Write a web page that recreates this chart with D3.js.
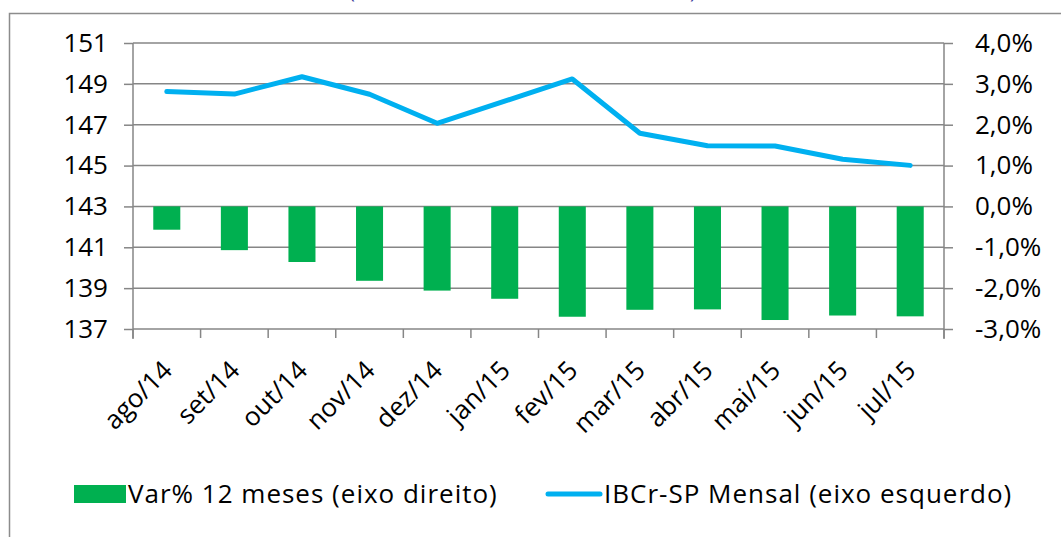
<!DOCTYPE html>
<html>
<head>
<meta charset="utf-8">
<script src="https://cdn.jsdelivr.net/npm/d3@7"></script>
<style>
	body { margin: 0; background: #fff; }
	svg { display: block; font-family: "Open Sans", sans-serif; }
</style>
</head>
<body>
<svg width="1061" height="537"></svg>
<script>
'use strict';

// chart data
var months = ["ago/14", "set/14", "out/14", "nov/14", "dez/14", "jan/15", "fev/15", "mar/15", "abr/15", "mai/15", "jun/15", "jul/15"];
var varPct = [-0.57, -1.07, -1.36, -1.82, -2.06, -2.26, -2.70, -2.53, -2.52, -2.78, -2.67, -2.69];
var ibcr = [148.62, 148.5, 149.35, 148.49, 147.07, 148.15, 149.24, 146.58, 145.97, 145.96, 145.31, 145.01];
var leftTicks = [137, 139, 141, 143, 145, 147, 149, 151];
var rightTicks = [-3, -2, -1, 0, 1, 2, 3, 4];
var legendNames = ["Var% 12 meses (eixo direito)", "IBCr-SP Mensal (eixo esquerdo)"];

const svg = d3.select("svg");
const gridColor = "#868686";
const green = "#00B050";
const blue = "#00B0F0";

// outer frame (right and bottom edges fall outside the picture)
svg.append("rect")
	.attr("x", 9.5).attr("y", 13.5)
	.attr("width", 1060).attr("height", 530)
	.attr("fill", "none")
	.attr("stroke", "#8c8c8c")
	.attr("stroke-width", 1.5);

// bits of the title cut off above the frame
svg.append("text").attr("x", 349).attr("y", -2).attr("fill", "#3a3a9a").attr("font-size", 20).text("(");
svg.append("text").attr("x", 690).attr("y", -2).attr("fill", "#3a3a9a").attr("font-size", 20).text(")");

const plotL = 133, plotR = 944, plotT = 43, plotB = 329;

const x = d3.scaleBand().domain(months).range([plotL, plotR]);
const yL = d3.scaleLinear().domain([137, 151]).range([plotB, plotT]);
const yR = d3.scaleLinear().domain([-3, 4]).range([plotB, plotT]);

// gridlines
svg.append("g").selectAll("line")
	.data(leftTicks)
	.enter().append("line")
	.attr("x1", plotL).attr("x2", plotR)
	.attr("y1", d => yL(d)).attr("y2", d => yL(d))
	.attr("stroke", gridColor).attr("stroke-width", 1.5);

// left axis
const axL = svg.append("g")
	.attr("transform", `translate(${plotL},0)`)
	.call(d3.axisLeft(yL).tickValues(leftTicks).tickSize(9).tickPadding(16).tickFormat(d3.format("d")));

// right axis
const axR = svg.append("g")
	.attr("transform", `translate(${plotR},0)`)
	.call(d3.axisRight(yR).tickValues(rightTicks).tickSize(9).tickPadding(22)
		.tickFormat(d => d3.format(".1f")(d).replace(".", ",").replace("−", "-") + "%"));

// bottom axis, ticks on category boundaries
const axB = svg.append("g")
	.attr("transform", `translate(0,${plotB})`)
	.call(d3.axisBottom(x).tickSize(0));
axB.select(".domain").remove();
axB.selectAll(".tick text")
	.attr("text-anchor", "end")
	.attr("x", 0).attr("y", 0).attr("dy", 0)
	.attr("transform", "translate(7,43) rotate(-45)");
svg.append("g").selectAll("line")
	.data(d3.range(months.length + 1))
	.enter().append("line")
	.attr("x1", i => plotL + i * x.step()).attr("x2", i => plotL + i * x.step())
	.attr("y1", plotB).attr("y2", plotB + 9)
	.attr("stroke", gridColor).attr("stroke-width", 1.5);

[axL, axR].forEach(a => {
	a.select(".domain").remove();
	a.selectAll(".tick line").attr("stroke", gridColor).attr("stroke-width", 1.5);
});
[axL, axR, axB].forEach(a => {
	a.selectAll(".tick text").attr("font-size", 26).attr("fill", "#000")
		.attr("font-family", "'Open Sans', sans-serif");
});

// axis verticals
[plotL, plotR].forEach(px => {
	svg.append("line")
		.attr("x1", px).attr("x2", px)
		.attr("y1", plotT).attr("y2", plotB + 10)
		.attr("stroke", gridColor).attr("stroke-width", 1.5);
});

// bars
const barW = x.step() * 0.4;
svg.append("g").selectAll("rect")
	.data(varPct)
	.enter().append("rect")
	.attr("x", (d, i) => x(months[i]) + x.bandwidth() / 2 - barW / 2)
	.attr("y", d => yR(Math.max(0, d)))
	.attr("width", barW)
	.attr("height", d => Math.abs(yR(d) - yR(0)))
	.attr("fill", green);

// line
const line = d3.line()
	.x((d, i) => x(months[i]) + x.bandwidth() / 2)
	.y(d => yL(d));
svg.append("path")
	.datum(ibcr)
	.attr("d", line)
	.attr("fill", "none")
	.attr("stroke", blue)
	.attr("stroke-width", 5)
	.attr("stroke-linejoin", "round")
	.attr("stroke-linecap", "round");

// legend
const legend = svg.append("g").attr("font-size", 26).attr("letter-spacing", 1);
legend.append("rect")
	.attr("x", 74).attr("y", 485).attr("width", 52).attr("height", 18)
	.attr("fill", green);
legend.append("text")
	.attr("x", 128).attr("y", 503)
	.text(legendNames[0]);
legend.append("line")
	.attr("x1", 548).attr("x2", 600).attr("y1", 494).attr("y2", 494)
	.attr("stroke", blue).attr("stroke-width", 5).attr("stroke-linecap", "round");
legend.append("text")
	.attr("x", 604).attr("y", 503)
	.text(legendNames[1]);
</script>
</body>
</html>
